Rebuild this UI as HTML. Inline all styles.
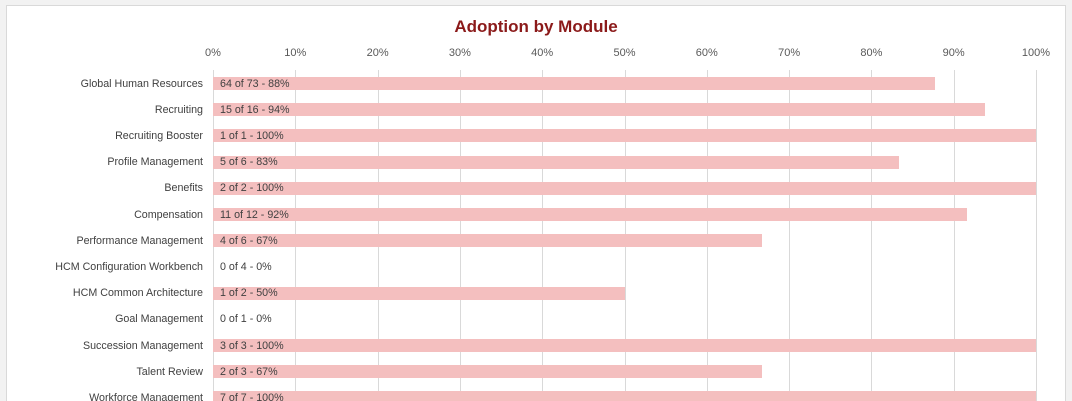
<!DOCTYPE html>
<html><head><meta charset="utf-8"><style>
html,body{margin:0;width:1072px;height:401px;overflow:hidden}
body{background:#f2f2f2;font-family:"Liberation Sans",sans-serif}
#w{position:relative;width:1072px;height:401px;overflow:hidden}
#c{position:absolute;left:6px;top:5px;width:1058px;height:420px;background:#fff;border:1px solid #d9d9d9}
.g{position:absolute;top:70px;height:331px;width:1px;background:#d9d9d9}
.t{position:absolute;top:47px;font-size:11px;color:#595959;width:60px;text-align:center}
.l{position:absolute;left:0;width:203px;text-align:right;font-size:10.7px;color:#404040}
.b{position:absolute;left:213px;height:13px;background:#f4bfbf}
.v{position:absolute;left:220px;font-size:10.7px;color:#404040}
</style></head><body><div id="w"><div id="c"></div>
<div style="position:absolute;left:0;width:1072px;top:17px;text-align:center;font-size:17px;font-weight:bold;color:#8b1a1a">Adoption by Module</div>
<div id="p"></div></div>
<script>
var p=document.getElementById('p'),h='';
for(var i=0;i<=10;i++){var x=213+i*82.3;h+='<div class="g" style="left:'+x+'px"></div><div class="t" style="left:'+(x-30)+'px">'+(i*10)+'%</div>';}
var d=[["Global Human Resources","64 of 73 - 88%",64/73],["Recruiting","15 of 16 - 94%",15/16],["Recruiting Booster","1 of 1 - 100%",1],["Profile Management","5 of 6 - 83%",5/6],["Benefits","2 of 2 - 100%",1],["Compensation","11 of 12 - 92%",11/12],["Performance Management","4 of 6 - 67%",4/6],["HCM Configuration Workbench","0 of 4 - 0%",0],["HCM Common Architecture","1 of 2 - 50%",.5],["Goal Management","0 of 1 - 0%",0],["Succession Management","3 of 3 - 100%",1],["Talent Review","2 of 3 - 67%",2/3],["Workforce Management","7 of 7 - 100%",1]];
d.forEach(function(r,i){var c=83.5+i*26.2;h+='<div class="l" style="top:'+(c-6)+'px">'+r[0]+'</div><div class="b" style="top:'+(c-6.5)+'px;width:'+(r[2]*823)+'px"></div><div class="v" style="top:'+(c-6)+'px">'+r[1]+'</div>';});
p.innerHTML=h;
</script></body></html>
